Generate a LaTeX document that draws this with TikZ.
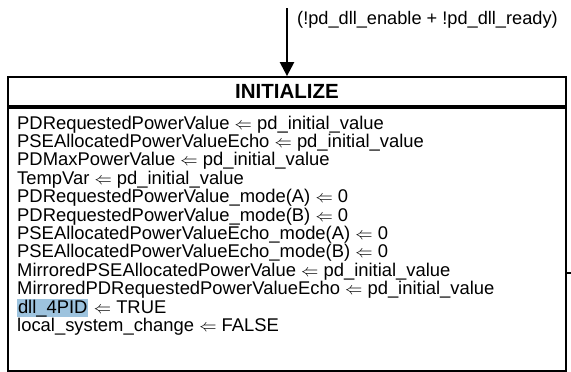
\documentclass[tikz,border=0pt]{standalone}
\usepackage{fontspec}
\setmainfont{Liberation Sans}
\usetikzlibrary{arrows.meta}
\usetikzlibrary{positioning}
\definecolor{hlblue}{RGB}{157,195,222}
\newcommand{\boxw}{558pt}
\newcommand{\headh}{29pt}
\newcommand{\bodyh}{263pt}
\newcommand{\rowx}{17}
\newcommand{\rowy}{129}
\newcommand{\rowd}{18.4}
\newcommand{\lar}{$\Leftarrow$}

\begin{document}
\begin{tikzpicture}[x=1pt,y=-1pt,
    font=\fontsize{18.4}{18.4}\selectfont,
    box/.style={draw,line width=1.8pt,minimum width=\boxw,inner sep=0pt},
    row/.style={anchor=base west,inner sep=0pt,
      text height=13.4pt,text depth=3.8pt}]
    \useasboundingbox (0,0) rectangle (571,372);

    \node[box,minimum height=\headh,font=\fontsize{20.5}{20.5}\selectfont\bfseries]
      (init) at (287,91.5) {INITIALIZE};
    \node[box,minimum height=\bodyh,below=0pt of init] (body) {};

    \coordinate (src) at (287,8);
    \draw[line width=2.4pt,-{Triangle[width=14pt,length=14pt]}]
      (src) -- (init.north);
    \node[anchor=west,inner sep=0pt,font=\fontsize{18.2}{18.2}\selectfont]
      (cond) at (297,20) {(!pd\_dll\_enable + !pd\_dll\_ready)};

    \coordinate (stub) at (571,273);
    \draw[line width=1.8pt] (body.east |- stub) -- (stub);

    \node[row] (la) at (\rowx,{\rowy})
      {PDRequestedPowerValue \lar\ pd\_initial\_value};
    \node[row] (lb) at (\rowx,{\rowy+\rowd})
      {PSEAllocatedPowerValueEcho \lar\ pd\_initial\_value};
    \node[row] (lc) at (\rowx,{\rowy+2*\rowd})
      {PDMaxPowerValue \lar\ pd\_initial\_value};
    \node[row] (ld) at (\rowx,{\rowy+3*\rowd})
      {TempVar \lar\ pd\_initial\_value};
    \node[row] (le) at (\rowx,{\rowy+4*\rowd})
      {PDRequestedPowerValue\_mode(A) \lar\ 0};
    \node[row] (lf) at (\rowx,{\rowy+5*\rowd})
      {PDRequestedPowerValue\_mode(B) \lar\ 0};
    \node[row] (lg) at (\rowx,{\rowy+6*\rowd})
      {PSEAllocatedPowerValueEcho\_mode(A) \lar\ 0};
    \node[row] (lh) at (\rowx,{\rowy+7*\rowd})
      {PSEAllocatedPowerValueEcho\_mode(B) \lar\ 0};
    \node[row] (li) at (\rowx,{\rowy+8*\rowd})
      {MirroredPSEAllocatedPowerValue \lar\ pd\_initial\_value};
    \node[row] (lj) at (\rowx,{\rowy+9*\rowd})
      {MirroredPDRequestedPowerValueEcho \lar\ pd\_initial\_value};
    \node[row,fill=hlblue,inner xsep=0.8pt,inner ysep=0.5pt] (lkv)
      at (\rowx,{\rowy+10*\rowd}) {dll\_4PID};
    \node[row] (lk) at (lkv.base east) {\ \lar\ TRUE};
    \node[row] (ll) at (\rowx,{\rowy+11*\rowd})
      {local\_system\_change \lar\ FALSE};
\end{tikzpicture}
\end{document}
